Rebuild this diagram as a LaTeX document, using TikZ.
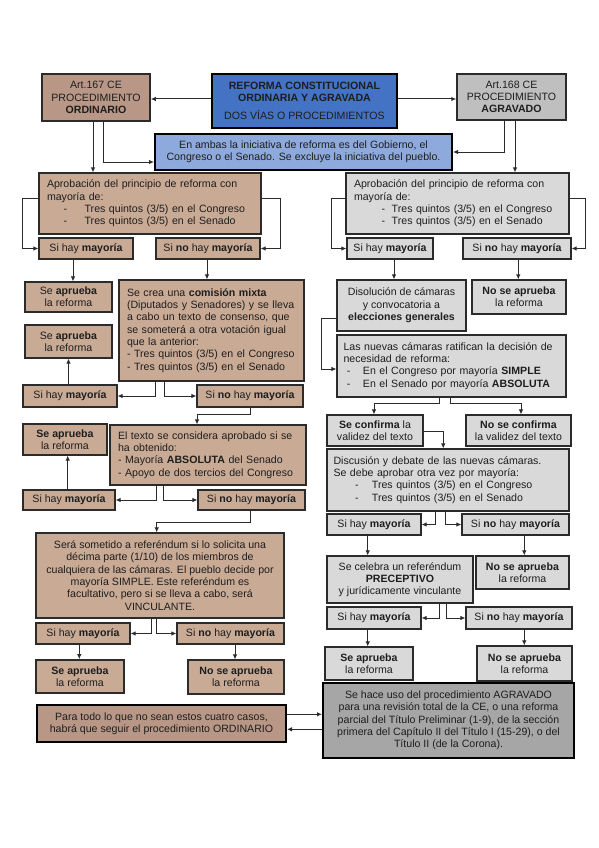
\documentclass[tikz,border=0pt]{standalone}
\usepackage{fontspec}
\setmainfont{Liberation Sans}
\usetikzlibrary{calc,arrows.meta}
\definecolor{brownF}{HTML}{C9AA95}
\definecolor{brownD}{HTML}{B89786}
\definecolor{grayF}{HTML}{D9D9D9}
\definecolor{grayD}{HTML}{BFBFBF}
\definecolor{grayD2}{HTML}{A6A6A6}
\definecolor{blueD}{HTML}{4472C4}
\definecolor{blueL}{HTML}{8EA9DB}
\definecolor{lc}{HTML}{2B2B2B}
\definecolor{tc}{HTML}{1E1E1E}
\newcommand\fsz{\fontsize{10.6pt}{12.3pt}\selectfont}
\newcommand\jl[1]{\makebox[169pt][s]{#1}}
\newcommand\mybox[7]{\node[#6,minimum width={#4-#2},minimum height={#5-#3}] (#1) at ({(#2+#4)/2},{(#3+#5)/2}) {#7};}
\tikzset{
 bx/.style={draw=lc, line width=1.1pt, inner sep=0pt, font=\fsz, text=tc, align=center},
 brn/.style={bx, fill=brownF},
 gry/.style={bx, fill=grayF},
 arr/.style={draw=lc, line width=1pt, -{Latex[length=5pt,width=4.5pt]}},
}
\begin{document}
\begin{tikzpicture}[x=1pt,y=-1pt]
\useasboundingbox (0,0) rectangle (599,848);
\fill[white] (0,0) rectangle (599,848);
% top
\mybox{a167}{42}{74}{150}{121}{bx,fill=brownD,line width=1.5pt}{Art.167 CE\\PROCEDIMIENTO\\\textbf{ORDINARIO}}
\mybox{title}{212}{74}{397}{128}{bx,fill=blueD,line width=2.2pt,draw=black}{\textbf{REFORMA CONSTITUCIONAL}\\\textbf{ORDINARIA Y AGRAVADA}\\[6pt]DOS VÍAS O PROCEDIMIENTOS}
\mybox{a168}{457}{74}{566}{120}{bx,fill=grayD,line width=1.5pt}{Art.168 CE\\PROCEDIMIENTO\\\textbf{AGRAVADO}}
\mybox{ambas}{155}{134}{452}{170}{bx,fill=blueL,line width=2pt,draw=black}{En ambas la iniciativa de reforma es del Gobierno, el\\Congreso o el Senado. Se excluye la iniciativa del pueblo.}
% left column
\mybox{Lapr}{39}{173}{261}{234}{brn,text width=206pt,align=left}{Aprobación del principio de reforma con\\mayoría de:\\\hspace*{16.5pt}-\hspace{17.6pt}Tres quintos (3/5) en el Congreso\\\hspace*{16.5pt}-\hspace{17.6pt}Tres quintos (3/5) en el Senado}
\mybox{Lsi1}{39}{238}{133}{259}{brn}{Si hay \textbf{mayoría}}
\mybox{Lno1}{156}{238}{260}{259}{brn}{Si \textbf{no} hay \textbf{mayoría}}
\mybox{Lok1}{25}{282}{112}{312}{brn}{Se \textbf{aprueba}\\la reforma}
\mybox{Lok2}{25}{325}{112}{358}{brn}{Se \textbf{aprueba}\\la reforma}
\mybox{Lcom}{119}{280}{304}{381}{brn,text width=169pt,align=left}{\jl{Se crea una \textbf{comisión mixta}}\\\jl{(Diputados y Senadores) y se lleva}\\\jl{a cabo un texto de consenso, que}\\\jl{se someterá a otra votación igual}\\que la anterior:\\- Tres quintos (3/5) en el Congreso\\- Tres quintos (3/5) en el Senado}
\mybox{Lsi2}{23}{385}{117}{407}{brn}{Si hay \textbf{mayoría}}
\mybox{Lno2}{197}{385}{303}{407}{brn}{Si \textbf{no} hay \textbf{mayoría}}
\mybox{Lok3}{23}{424}{107}{455}{brn}{\textbf{Se aprueba}\\la reforma}
\mybox{Ltex}{110}{425}{306}{485}{brn,text width=180pt,align=left}{El texto se considera aprobado si se\\ha obtenido:\\- Mayoría \textbf{ABSOLUTA} del Senado\\- Apoyo de dos tercios del Congreso}
\mybox{Lsi3}{23}{490}{115}{510}{brn}{Si hay \textbf{mayoría}}
\mybox{Lno3}{198}{490}{305}{510}{brn}{Si \textbf{no} hay \textbf{mayoría}}
\mybox{Lref}{36}{533}{284}{618}{brn}{Será sometido a referéndum si lo solicita una\\décima parte (1/10) de los miembros de\\cualquiera de las cámaras. El pueblo decide por\\mayoría SIMPLE. Este referéndum es\\facultativo, pero si se lleva a cabo, será\\VINCULANTE.}
\mybox{Lsi4}{36}{623}{130}{644}{brn}{Si hay \textbf{mayoría}}
\mybox{Lno4}{177}{623}{284}{644}{brn}{Si \textbf{no} hay \textbf{mayoría}}
\mybox{Lok4}{36}{660}{124}{693}{brn,line width=1.6pt}{\textbf{Se aprueba}\\la reforma}
\mybox{Lnok4}{188}{660}{284}{694}{brn}{\textbf{No se aprueba}\\la reforma}
\mybox{Lfin}{37}{705}{286}{742}{bx,fill=brownD,line width=2pt,draw=black}{Para todo lo que no sean estos cuatro casos,\\habrá que seguir el procedimiento ORDINARIO}
% right column
\mybox{Rapr}{346}{173}{569}{234}{gry,text width=207pt,align=left}{Aprobación del principio de reforma con\\mayoría de:\\\hspace*{27.7pt}-\hspace{6.5pt}Tres quintos (3/5) en el Congreso\\\hspace*{27.7pt}-\hspace{6.5pt}Tres quintos (3/5) en el Senado}
\mybox{Rsi1}{347}{238}{433}{259}{gry}{Si hay \textbf{mayoría}}
\mybox{Rno1}{463}{238}{571}{259}{gry}{Si \textbf{no} hay \textbf{mayoría}}
\mybox{Rdis}{337}{280}{466}{331}{gry}{Disolución de cámaras\\y convocatoria a\\\textbf{elecciones generales}}
\mybox{Rnok1}{472}{280}{566}{314}{gry}{\textbf{No se aprueba}\\la reforma}
\mybox{Rnue}{337}{335}{566}{397}{gry,text width=216pt,align=left}{Las nuevas cámaras ratifican la decisión de\\necesidad de reforma:\\\hspace*{3.4pt}-\hspace{12.5pt}En el Congreso por mayoría \textbf{SIMPLE}\\\hspace*{3.4pt}-\hspace{12.5pt}En el Senado por mayoría \textbf{ABSOLUTA}}
\mybox{Rconf}{327}{415}{423}{446}{gry}{\textbf{Se confirma} la\\validez del texto}
\mybox{Rnconf}{466}{415}{571}{446}{gry}{\textbf{No se confirma}\\la validez del texto}
\mybox{Rdisc}{327}{449}{569}{511}{gry,text width=229pt,align=left}{Discusión y debate de las nuevas cámaras.\\Se debe aprobar otra vez por mayoría:\\\hspace*{21.7pt}-\hspace{13.2pt}Tres quintos (3/5) en el Congreso\\\hspace*{21.7pt}-\hspace{13.2pt}Tres quintos (3/5) en el Senado}
\mybox{Rsi2}{327}{514}{421}{535}{gry}{Si hay \textbf{mayoría}}
\mybox{Rno2}{462}{514}{569}{535}{gry}{Si \textbf{no} hay \textbf{mayoría}}
\mybox{Rcel}{327}{556}{473}{603}{gry}{Se celebra un referéndum\\\textbf{PRECEPTIVO}\\y jurídicamente vinculante}
\mybox{Rnok2}{476}{556}{569}{589}{gry}{\textbf{No se aprueba}\\la reforma}
\mybox{Rsi3}{327}{607}{421}{629}{gry}{Si hay \textbf{mayoría}}
\mybox{Rno3}{466}{607}{572}{629}{gry}{Si \textbf{no} hay \textbf{mayoría}}
\mybox{Rok}{325}{647}{413}{680}{gry}{\textbf{Se aprueba}\\la reforma}
\mybox{Rnok3}{477}{646}{572}{681}{gry}{\textbf{No se aprueba}\\la reforma}
\mybox{Rfin}{323}{683}{574}{758}{bx,fill=grayD2,line width=2pt,draw=black}{Se hace uso del procedimiento AGRAVADO\\para una revisión total de la CE, o una reforma\\parcial del Título Preliminar (1-9), de la sección\\primera del Capítulo II del Título I (15-29), o del\\Título II (de la Corona).}
% connectors top
\draw[arr] ($(title.west)+(0,-2)$) coordinate (t1) -- (t1 -| a167.east);
\draw[arr] ($(title.east)+(0,-2)$) coordinate (t2) -- (t2 -| a168.west);
\draw[arr] ($(a167.south)+(-3,0)$) coordinate (t3) -- (t3 |- Lapr.north);
\draw[arr] ($(a167.south)+(7,0)$) |- ($(ambas.west)+(0,10)$);
\draw[arr] ($(a168.south)+(-7.5,0)$) |- (ambas.east);
\draw[arr] ($(a168.south)+(3.5,0)$) coordinate (t4) -- (t4 |- Rapr.north);
% connectors left
\draw[arr] ($(Lapr.west)+(0,-5)$) -- ++(-16,0) |- (Lsi1.west);
\draw[arr] ($(Lapr.east)+(0,-5)$) -- ++(19,0) |- (Lno1.east);
\draw[arr] ($(Lsi1.south)+(-13,0)$) coordinate (l1) -- (l1 |- Lok1.north);
\draw[arr] ($(Lno1.south)+(-1,0)$) coordinate (l2) -- (l2 |- Lcom.north);
\draw[arr] ($(Lcom.south)+(-56.5,0)$) |- (Lsi2.east);
\draw[arr] ($(Lcom.south)+(-47,0)$) |- (Lno2.west);
\draw[arr] ($(Lsi2.north)+(-1.5,0)$) coordinate (l3) -- (l3 |- Lok2.south);
\draw[arr] (Lno2.south) -- ++(0,7) -| ($(Ltex.north)+(-11,0)$);
\draw[arr] ($(Lsi3.north)+(-1.3,0)$) coordinate (l4) -- (l4 |- Lok3.south);
\draw[arr] ($(Ltex.south)+(-52,0)$) |- (Lsi3.east);
\draw[arr] ($(Ltex.south)+(-44.7,0)$) |- (Lno3.west);
\draw[arr] ($(Lno3.south)+(-0.8,0)$) -- ++(0,11.7) -| ($(Lref.north)+(-3.3,0)$);
\draw[arr] ($(Lref.south)+(-8.3,0)$) |- (Lsi4.east);
\draw[arr] ($(Lref.south)+(-3.3,0)$) |- (Lno4.west);
\draw[arr] ($(Lsi4.south)+(-3.7,0)$) coordinate (l5) -- (l5 |- Lok4.north);
\draw[arr] ($(Lno4.south)+(4.5,0)$) coordinate (l6) -- (l6 |- Lnok4.north);
\draw[arr] ($(Lfin.east)+(0,-9.2)$) coordinate (f1) -- (f1 -| Rfin.west);
\draw[arr] ($(Rfin.west)+(0,8.8)$) coordinate (f2) -- (f2 -| Lfin.east);
% connectors right
\draw[arr] ($(Rapr.west)+(0,-5)$) -- ++(-14.3,0) |- (Rsi1.west);
\draw[arr] ($(Rapr.east)+(0,-5)$) -- ++(16,0) |- (Rno1.east);
\draw[arr] ($(Rsi1.south)+(4,0)$) coordinate (r1) -- (r1 |- Rdis.north);
\draw[arr] ($(Rno1.south)+(1.3,0)$) coordinate (r2) -- (r2 |- Rnok1.north);
\draw[arr] ($(Rdis.west)+(0,12.7)$) -- ++(-15,0) |- ($(Rnue.west)+(0,3)$);
\draw[arr] ($(Rnue.south)+(-12.2,0)$) -- ++(0,5.5) -| ($(Rconf.north)+(-1,0)$);
\draw[arr] ($(Rnue.south)+(-0.8,0)$) -- ++(0,5.5) -| ($(Rnconf.north)+(2.5,0)$);
\draw[arr] ($(Rconf.east)+(0,0.5)$) -- ++(19.7,0) coordinate (r3) -- (r3 |- Rdisc.north);
\draw[arr] ($(Rdisc.south)+(-12.3,0)$) |- (Rsi2.east);
\draw[arr] ($(Rdisc.south)+(-2.3,0)$) |- (Rno2.west);
\draw[arr] ($(Rsi2.south)+(-6.3,0)$) coordinate (r4) -- (r4 |- Rcel.north);
\draw[arr] ($(Rno2.south)+(8.8,0)$) coordinate (r5) -- (r5 |- Rnok2.north);
\draw[arr] ($(Rcel.south)+(39.3,0)$) |- (Rsi3.east);
\draw[arr] ($(Rcel.south)+(46.7,0)$) |- (Rno3.west);
\draw[arr] ($(Rsi3.south)+(-6.3,0)$) coordinate (r6) -- (r6 |- Rok.north);
\draw[arr] ($(Rno3.south)+(5.3,0)$) coordinate (r7) -- (r7 |- Rnok3.north);
\end{tikzpicture}
\end{document}
